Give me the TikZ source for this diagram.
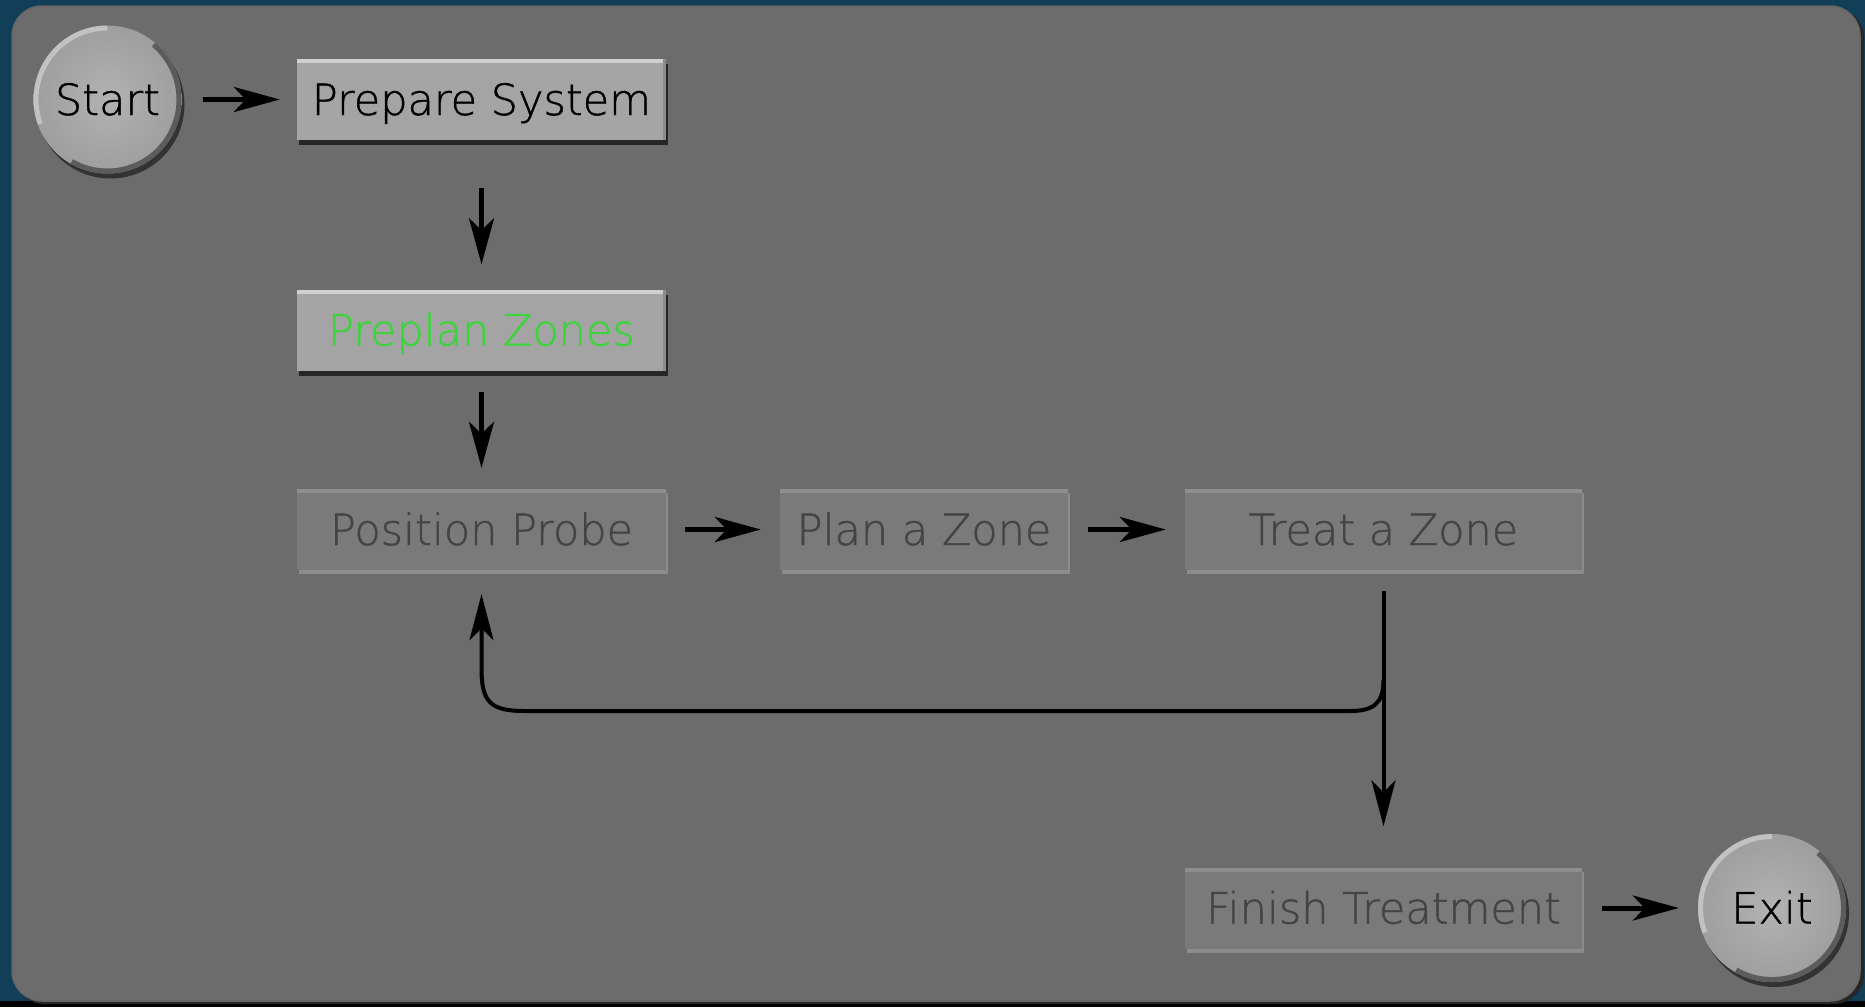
\documentclass[tikz,border=0pt]{standalone}
\usepackage{fontspec}
\setmainfont[FakeBold=1]{DejaVu Sans ExtraLight}
\usetikzlibrary{arrows.meta,shadows}
\definecolor{bgblue}{HTML}{123F58}
\definecolor{panel}{HTML}{6C6C6C}
\definecolor{actfill}{HTML}{A4A4A4}
\definecolor{acttop}{HTML}{D0D0D0}
\definecolor{disfill}{HTML}{7A7A7A}
\definecolor{distop}{HTML}{8E8E8E}
\definecolor{distext}{HTML}{444444}
\definecolor{greentext}{HTML}{3CD43C}
\definecolor{circin}{HTML}{B2B2B2}
\definecolor{circout}{HTML}{9E9E9E}
\begin{document}
\begin{tikzpicture}[x=1pt,y=-1pt,
  lbl/.style={font=\fontsize{43}{46}\selectfont, text height=31pt, text depth=0pt},
  actbox/.style={lbl, rectangle, fill=actfill, minimum height=81pt, inner sep=0pt, text=black,
    general shadow={fill=black!85, shadow xshift=2pt, shadow yshift=-5pt},
    path picture={\fill[acttop] (path picture bounding box.north west) rectangle ([yshift=-4pt]path picture bounding box.north east);
      \fill[black!45] ([xshift=-3pt]path picture bounding box.north east) rectangle (path picture bounding box.south east);}},
  disbox/.style={lbl, rectangle, fill=disfill, minimum height=81pt, inner sep=0pt, text=distext,
    general shadow={fill=black!45, shadow xshift=2pt, shadow yshift=-4pt},
    path picture={\fill[distop] (path picture bounding box.north west) rectangle ([yshift=-4pt]path picture bounding box.north east);}},
  circbtn/.style={lbl, circle, minimum size=148pt, inner sep=0pt, inner color=circin, outer color=circout, text=black,
    general shadow={fill=black!80, shadow xshift=3pt, shadow yshift=-5pt},
    path picture={
      \draw[white!80!gray, line width=6pt, opacity=.5] (path picture bounding box.center) ++(90:72pt) arc[start angle=90,end angle=200,radius=72pt];
      \draw[black!70, line width=6pt, opacity=.8] (path picture bounding box.center) ++(-120:72pt) arc[start angle=-120,end angle=50,radius=72pt];}},
  arr/.style={line width=5pt, -{Stealth[length=46pt,width=25pt,inset=12pt]}},
  looparr/.style={line width=4pt, -{Stealth[length=46pt,width=24pt,inset=12pt]}}
]
\useasboundingbox (0,0) rectangle (1865,1007);
\fill[bgblue] (0,0) rectangle (1865,1007);
\fill[black] (0,1001) rectangle (1865,1007);
\fill[black!85, rounded corners=30pt] (14,8) rectangle (1864,1004);
\fill[panel, rounded corners=30pt] (12,6) rectangle (1860,1001);
\draw[black!60, line width=1.5pt, rounded corners=30pt] (12,6) rectangle (1860,1001);

\node[actbox, minimum width=369pt] (prep) at (481.5,99.5) {Prepare System};
\node[actbox, minimum width=369pt, text=greentext] (preplan) at (481.5,330) {Preplan Zones};
\node[disbox, minimum width=369pt] (pp) at (481.5,529.5) {Position Probe};
\node[disbox, minimum width=288pt] (plan) at (924,529.5) {Plan a Zone};
\node[disbox, minimum width=397pt] (treat) at (1383.5,529.5) {Treat a Zone};
\node[disbox, minimum width=397pt] (finish) at (1383.5,908) {Finish Treatment};
\node[circbtn] (start) at (107.5,99.5) {Start};
\node[circbtn] (exit) at (1772,908) {Exit};

\draw[arr, shorten <=21pt, shorten >=17pt] (start) -- (prep);
\draw[arr, shorten <=48pt, shorten >=25pt] (prep) -- (preplan);
\draw[arr, shorten <=21pt, shorten >=21pt] (preplan) -- (pp);
\draw[arr, shorten <=19pt, shorten >=19pt] (pp) -- (plan);
\draw[arr, shorten <=20pt, shorten >=19pt] (plan) -- (treat);
\draw[arr, shorten <=20pt, shorten >=19pt] (finish) -- (exit);
\draw[looparr, shorten <=21pt, shorten >=41pt] (treat) -- (finish);
\coordinate (br) at (1383.5,680);
\draw[looparr, shorten >=24pt] (br) .. controls (1383.5,703) and (1374,711) .. (1350,711) -- (525,711) .. controls (490,711) and (481.5,702) .. (481.5,668) -- (pp.south);
\end{tikzpicture}
\end{document}
